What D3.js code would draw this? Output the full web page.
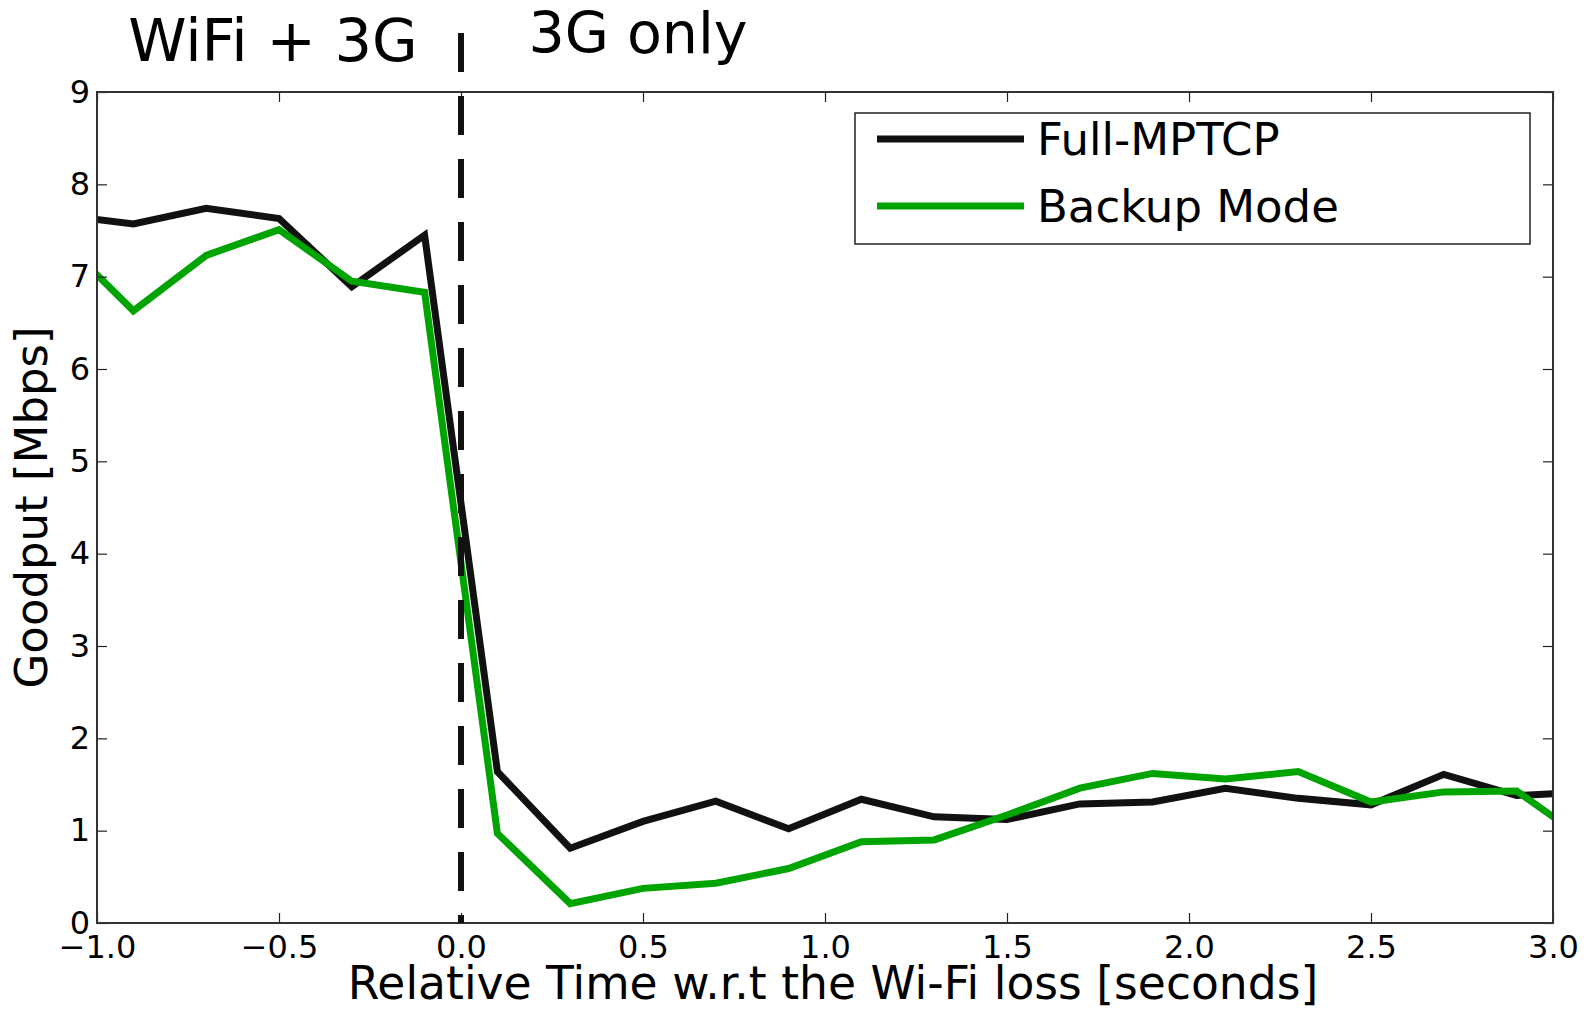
<!DOCTYPE html>
<html>
<head>
<meta charset="utf-8">
<script src="https://cdn.jsdelivr.net/npm/d3@7"></script>
<style>
  body{margin:0;background:#fff;}
  svg{display:block;font-family:"DejaVu Sans",sans-serif;}
</style>
</head>
<body>
<svg id="chart" width="1594" height="1010"></svg>
<script>
// relative time (s), sampled every 0.2 s; first/last points lie just outside the axes and get clipped
const times=[-1.1,-0.9,-0.7,-0.5,-0.3,-0.1,0.1,0.3,0.5,0.7,0.9,1.1,1.3,1.5,1.7,1.9,2.1,2.3,2.5,2.7,2.9,3.1];
const fullMptcp=[7.67,7.57,7.74,7.63,6.89,7.45,1.64,0.81,1.10,1.32,1.02,1.34,1.15,1.12,1.29,1.31,1.46,1.35,1.28,1.61,1.38,1.42];
const backupMode=[7.41,6.63,7.23,7.51,6.95,6.83,0.97,0.21,0.375,0.43,0.59,0.88,0.90,1.17,1.46,1.62,1.56,1.64,1.31,1.42,1.43,0.87];
const xTicks=[-1.0,-0.5,0.0,0.5,1.0,1.5,2.0,2.5,3.0];
const yTicks=[0,1,2,3,4,5,6,7,8,9];
const seriesNames=["Full-MPTCP","Backup Mode"];
const seriesColors=["#111111","#00a400"];

const svg=d3.select("#chart");
const m={top:92,right:41,bottom:87,left:97};
const W=1594,H=1010;

const x=d3.scaleLinear().domain([-1,3]).range([m.left,W-m.right]);
const y=d3.scaleLinear().domain([0,9]).range([H-m.bottom,m.top]);

svg.append("defs").append("clipPath").attr("id","plotClip")
  .append("rect")
  .attr("x",m.left).attr("y",m.top)
  .attr("width",W-m.left-m.right).attr("height",H-m.top-m.bottom);

const series=[fullMptcp,backupMode].map((vals,i)=>({
  name:seriesNames[i],
  color:seriesColors[i],
  points:times.map((t,j)=>({t,v:vals[j]}))
}));

const line=d3.line().x(d=>x(d.t)).y(d=>y(d.v));

svg.append("g").attr("clip-path","url(#plotClip)")
  .selectAll("path")
  .data(series)
  .join("path")
  .attr("d",d=>line(d.points))
  .attr("fill","none")
  .attr("stroke",d=>d.color)
  .attr("stroke-width",7)
  .attr("stroke-linejoin","miter");

// axes with inward ticks on all sides
const tickSize=-10;
svg.append("g")
  .attr("transform",`translate(0,${y(0)})`)
  .call(d3.axisBottom(x).tickValues(xTicks).tickSize(tickSize).tickPadding(12).tickFormat(d=>d3.format(".1f")(d).replace("-","\u2212")))
  .call(g=>g.select(".domain").remove());
svg.append("g")
  .attr("transform",`translate(0,${y(9)})`)
  .call(d3.axisTop(x).tickValues(xTicks).tickSize(tickSize).tickFormat(""))
  .call(g=>g.select(".domain").remove());
svg.append("g")
  .attr("transform",`translate(${x(-1)},0)`)
  .call(d3.axisLeft(y).tickValues(yTicks).tickSize(tickSize).tickPadding(7))
  .call(g=>g.select(".domain").remove());
svg.append("g")
  .attr("transform",`translate(${x(3)},0)`)
  .call(d3.axisRight(y).tickValues(yTicks).tickSize(tickSize).tickFormat(""))
  .call(g=>g.select(".domain").remove());

svg.selectAll(".tick line").attr("stroke","#222").attr("stroke-width",1.2);
svg.selectAll(".tick text").attr("font-size",32).attr("fill","#000").attr("font-family","DejaVu Sans");

svg.append("rect")
  .attr("x",x(-1)).attr("y",y(9))
  .attr("width",x(3)-x(-1)).attr("height",y(0)-y(9))
  .attr("fill","none").attr("stroke","#333").attr("stroke-width",2);

// WiFi loss marker
svg.append("line")
  .attr("x1",x(0)).attr("x2",x(0))
  .attr("y1",33).attr("y2",y(0))
  .attr("stroke","#111").attr("stroke-width",6)
  .attr("stroke-dasharray","39,24");

svg.append("text").attr("x",273).attr("y",61).attr("text-anchor","middle")
  .attr("font-size",59).text("WiFi + 3G");
svg.append("text").attr("x",638).attr("y",53).attr("text-anchor","middle")
  .attr("font-size",57).text("3G only");

// axis titles
svg.append("text").attr("x",(x(-1)+x(3))/2+8).attr("y",999).attr("text-anchor","middle")
  .attr("font-size",45.6).text("Relative Time w.r.t the Wi-Fi loss [seconds]");
svg.append("text").attr("transform",`translate(47,${(y(0)+y(9))/2}) rotate(-90)`)
  .attr("text-anchor","middle").attr("font-size",45).text("Goodput [Mbps]");

// legend
const lg=svg.append("g");
lg.append("rect").attr("x",855).attr("y",113).attr("width",675).attr("height",131)
  .attr("fill","#fff").attr("stroke","#222").attr("stroke-width",1.5);
const items=lg.selectAll("g.item").data(series).join("g").attr("class","item")
  .attr("transform",(d,i)=>`translate(0,${139+i*67})`);
items.append("line").attr("x1",877).attr("x2",1024).attr("y1",0).attr("y2",0)
  .attr("stroke",d=>d.color).attr("stroke-width",7);
items.append("text").attr("x",1037).attr("y",16).attr("font-size",45).text(d=>d.name);
</script>
</body>
</html>
